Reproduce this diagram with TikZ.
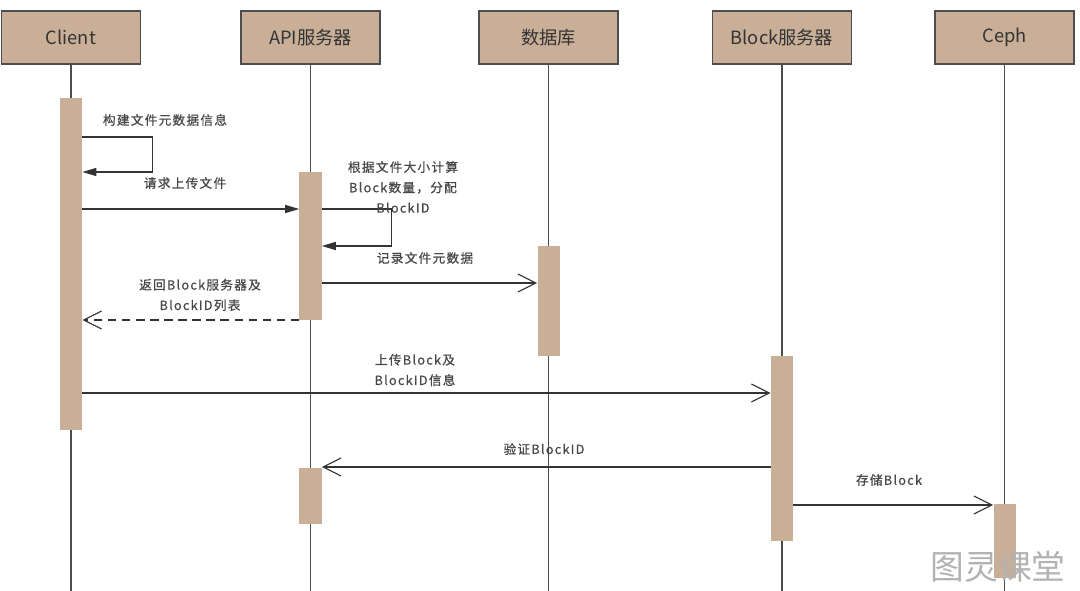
\documentclass[tikz,border=0pt]{standalone}
\usepackage{fontspec}
\setmainfont{Noto Sans CJK SC}
\newfontfamily\lblfont[LetterSpace=10,FakeBold=0.6]{Noto Sans CJK SC}
\usetikzlibrary{arrows.meta}
\definecolor{tan}{HTML}{C9AF97}
\definecolor{edge}{HTML}{4D4D4D}
\definecolor{ink}{HTML}{333333}

\begin{document}
\begin{tikzpicture}[x=0.025cm, y=-0.025cm,
  actor/.style={draw=edge, fill=tan, line width=1pt, minimum width=3.475cm, minimum height=1.325cm, font=\fontsize{13}{15}\selectfont, text=ink},
  life/.style={draw=edge, line width=0.8pt},
  bar/.style={fill=tan, minimum width=0.55cm, inner sep=0pt},
  msg/.style={draw=ink, line width=0.8pt, -{Straight Barb[length=0.45cm, width=0.45cm, line width=0.8pt]}},
  call/.style={draw=ink, line width=0.8pt, -{Triangle[length=0.35cm, width=0.2cm]}},
  reply/.style={msg, dash pattern=on 6pt off 4pt},
  lbl/.style={font=\lblfont\fontsize{9}{14.5}\selectfont, text=ink!90, align=center, inner sep=0pt}
]
  \fill[white] (0,0) rectangle (1080,591);
  \useasboundingbox (0,0) rectangle (1080,591);

  % participants
  \node[actor] (client) at (71,37.5) {Client};
  \node[actor] (api) at (310.5,37.5) {API服务器};
  \node[actor] (db) at (548.5,37.5) {数据库};
  \node[actor] (block) at (782,37.5) {Block服务器};
  \node[actor] (ceph) at (1004.5,37.5) {Ceph};

  % lifelines
  \coordinate (clientend) at (71,591);
  \coordinate (apiend) at (310.5,591);
  \coordinate (dbend) at (548.5,591);
  \coordinate (blockend) at (782,591);
  \coordinate (cephend) at (1004.5,591);
  \draw[life] (client) -- (clientend);
  \draw[life] (api) -- (apiend);
  \draw[life] (db) -- (dbend);
  \draw[life] (block) -- (blockend);
  \draw[life] (ceph) -- (cephend);

  % activations
  \node[bar, minimum height=8.3cm] (cbar) at (71,264) {};
  \node[bar, minimum height=3.7cm] (abar) at (310.5,246) {};
  \node[bar, minimum height=2.75cm] (dbar) at (548.5,301) {};
  \node[bar, minimum height=4.625cm] (bbar) at (782,448.5) {};
  \node[bar, minimum height=1.4cm] (abartwo) at (310.5,496) {};
  \node[bar, minimum height=1.85cm] (cephbar) at (1004.5,541) {};

  % message ends
  \coordinate (selfa) at (cbar.east |- 0,137);
  \coordinate (selfb) at (cbar.east |- 0,172);
  \coordinate (reqa) at (cbar.east |- 0,209);
  \coordinate (reqb) at (abar.west |- 0,209);
  \coordinate (calca) at (abar.east |- 0,209);
  \coordinate (calcb) at (abar.east |- 0,246);
  \coordinate (reca) at (abar.east |- 0,283);
  \coordinate (recb) at (dbar.west |- 0,283);
  \coordinate (reta) at (abar.west |- 0,320);
  \coordinate (retb) at (cbar.east |- 0,320);
  \coordinate (upa) at (cbar.east |- 0,393);
  \coordinate (upb) at (bbar.west |- 0,393);
  \coordinate (vera) at (bbar.west |- 0,467);
  \coordinate (verb) at (abartwo.east |- 0,467);
  \coordinate (stoa) at (bbar.east |- 0,505);
  \coordinate (stob) at (cephbar.west |- 0,505);

  % messages
  \draw[call] (selfa) -- ++(70,0) |- (selfb);
  \draw[call] (reqa) -- (reqb);
  \draw[call] (calca) -- ++(70,0) |- (calcb);
  \draw[msg] (reca) -- (recb);
  \draw[reply] (reta) -- (retb);
  \draw[msg] (upa) -- (upb);
  \draw[msg] (vera) -- (verb);
  \draw[msg] (stoa) -- (stob);

  % labels
  \node[lbl] (selflbl) at (165,120) {构建文件元数据信息};
  \node[lbl] (reqlbl) at (185,183) {请求上传文件};
  \node[lbl] (calclbl) at (403,187) {根据文件大小计算\\Block数量，分配\\BlockID};
  \node[lbl] (reclbl) at (425,258) {记录文件元数据};
  \node[lbl] (retlbl) at (200,295) {返回Block服务器及\\BlockID列表};
  \node[lbl] (uplbl) at (415,370) {上传Block及\\BlockID信息};
  \node[lbl] (verlbl) at (544,449) {验证BlockID};
  \node[lbl] (stolbl) at (889,480) {存储Block};

  \node[font=\fontsize{24}{24}\selectfont, text=gray!60, inner sep=0pt] (mark) at (998,567) {图灵课堂};
\end{tikzpicture}
\end{document}
